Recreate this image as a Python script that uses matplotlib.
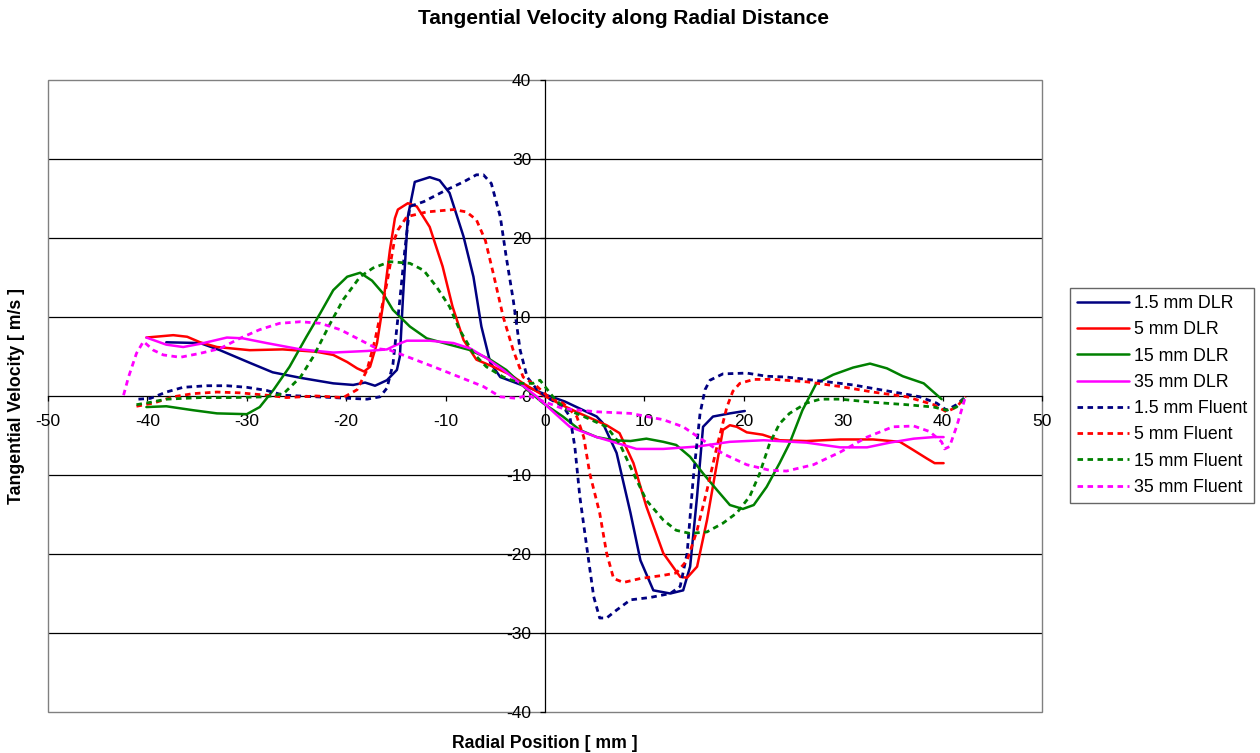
import matplotlib
matplotlib.use("Agg")
import matplotlib.pyplot as plt
from matplotlib.patches import Rectangle

plt.rcParams['font.family'] = ['Liberation Sans', 'DejaVu Sans']

# ---- data: radial position [mm] and tangential velocity [m/s] ----
dlr15_x = [-38.1, -34.7, -32.7, -29.7, -27.4, -24.6, -21.3, -19.3, -18.1, -17.1, -15.9, -14.9,
           -14.6, -14.3, -13.8, -13.1, -11.6, -10.6, -9.6, -8.2, -7.2, -6.4, -5.5, -4.5, -2.8,
           -1.5, 0.2, 2.0, 5.2, 5.8, 7.2, 8.6, 9.6, 10.9, 12.6, 13.9, 14.6, 15.3, 15.9, 16.9,
           18.6, 20.1]
dlr15_y = [6.8, 6.7, 5.8, 4.2, 3.0, 2.3, 1.6, 1.4, 1.7, 1.3, 2.0, 3.3,
           5.0, 12.2, 22.7, 27.1, 27.7, 27.3, 25.7, 20.2, 15.1, 8.8, 4.2, 2.4, 1.6,
           1.0, 0.1, -0.7, -2.6, -3.4, -7.2, -14.8, -20.8, -24.6, -25.0, -24.6, -21.6, -12.7, -3.9, -2.6,
           -2.2, -1.9]

dlr5_x = [-40.1, -37.4, -36.0, -34.7, -33.0, -29.7, -26.4, -23.0, -21.3, -19.9, -18.9, -18.2,
          -17.6, -16.9, -16.3, -15.6, -15.1, -14.8, -13.8, -12.9, -11.6, -10.3, -9.3, -8.2,
          -6.9, -5.2, -3.5, -2.2, -0.2, 1.8, 3.5, 6.2, 7.5, 8.9, 10.2, 11.9, 13.6, 14.3, 15.3,
          16.3, 17.3, 17.9, 18.6, 19.3, 20.3, 21.9, 23.6, 26.3, 29.7, 33.0, 35.7, 37.0, 38.4,
          39.2, 40.1]
dlr5_y = [7.4, 7.7, 7.5, 6.8, 6.2, 5.8, 5.9, 5.6, 5.2, 4.3, 3.5, 3.1,
          3.7, 6.7, 11.5, 18.5, 22.5, 23.6, 24.4, 24.0, 21.4, 16.4, 11.3, 7.1,
          4.6, 3.7, 2.7, 1.6, 0.1, -1.2, -2.2, -3.7, -4.7, -8.5, -14.0, -19.9, -22.9, -23.0, -21.6,
          -15.7, -8.5, -4.3, -3.7, -3.9, -4.6, -4.9, -5.6, -5.7, -5.5, -5.5, -5.8, -6.8, -7.9,
          -8.5, -8.5]

dlr15mm_x = [-40.1, -38.1, -35.4, -33.0, -30.0, -28.7, -27.3, -25.7, -24.0, -22.6, -21.3, -19.9,
             -18.6, -17.4, -16.3, -15.3, -13.6, -11.9, -9.6, -7.5, -5.5, -3.9, -1.8, -0.2, 1.8,
             3.5, 5.2, 6.9, 8.6, 10.2, 11.9, 13.2, 14.6, 15.9, 17.3, 18.6, 19.9, 21.0, 22.3, 23.6,
             24.6, 25.9, 27.3, 29.0, 31.0, 32.7, 34.4, 36.0, 38.1, 39.9]
dlr15mm_y = [-1.4, -1.3, -1.8, -2.2, -2.3, -1.4, 0.8, 3.7, 7.5, 10.5, 13.4, 15.1,
             15.6, 14.6, 13.0, 10.9, 8.8, 7.3, 6.5, 5.8, 4.6, 3.3, 0.8, -0.9, -2.6,
             -4.3, -5.2, -5.6, -5.7, -5.4, -5.8, -6.2, -7.7, -9.8, -11.9, -13.8, -14.3, -13.8, -11.5, -8.5,
             -6.0, -1.8, 1.6, 2.7, 3.6, 4.1, 3.5, 2.5, 1.6, -0.4]

dlr35_x = [-40.1, -38.1, -36.4, -34.7, -32.0, -30.4, -28.0, -24.6, -21.3, -17.9, -15.9, -14.9,
           -13.9, -11.6, -9.2, -7.5, -5.9, -4.2, -2.5, -0.8, 1.0, 2.5, 5.2, 7.9, 9.2, 11.9,
           15.3, 18.6, 22.0, 26.3, 29.7, 32.4, 34.7, 37.1, 39.1, 40.1]
dlr35_y = [7.4, 6.5, 6.2, 6.6, 7.4, 7.3, 6.7, 5.9, 5.5, 5.7, 5.9, 6.5,
           7.0, 7.0, 6.7, 6.0, 4.8, 3.3, 1.6, -0.1, -2.2, -3.9, -5.2, -6.2, -6.7, -6.7,
           -6.4, -5.8, -5.6, -5.9, -6.5, -6.5, -5.9, -5.4, -5.2, -5.2]

flu15_x = [-40.9, -39.7, -38.1, -36.4, -34.0, -32.0, -30.0, -28.0, -26.3, -23.0, -19.6, -17.9,
           -16.6, -15.9, -15.3, -14.6, -14.1, -13.6, -12.2, -9.9, -8.2, -6.9, -6.2, -5.4, -4.5,
           -3.9, -3.2, -2.5, -1.8, -0.8, 0.5, 1.8, 2.5, 3.0, 3.5, 4.2, 4.9, 5.5, 6.2, 7.2, 8.6,
           10.6, 12.6, 13.6, 14.3, 14.9, 15.6, 16.1, 16.6, 17.9, 20.3, 22.3, 24.3, 27.7, 31.0,
           33.7, 36.0, 37.7, 39.4, 40.4, 41.4, 42.3]
flu15_y = [-0.4, -0.3, 0.5, 1.1, 1.3, 1.3, 1.1, 0.7, 0.1, -0.1, -0.3, -0.4,
           -0.1, 1.0, 4.0, 12.2, 18.5, 24.0, 24.6, 26.1, 27.1, 28.0, 28.0, 26.9, 22.7,
           17.6, 12.2, 5.8, 2.4, 0.8, -0.4, -1.3, -2.6, -6.4, -12.7, -19.1, -25.4, -28.1, -28.1, -27.1, -25.8,
           -25.5, -25.0, -24.1, -19.9, -10.6, -2.2, 0.8, 2.0, 2.8, 2.9, 2.5, 2.4, 1.9, 1.4,
           0.8, 0.3, -0.1, -0.9, -1.8, -1.1, -0.1]

flu5_x = [-41.1, -39.4, -37.4, -35.4, -33.0, -30.7, -28.0, -26.0, -23.0, -20.3, -18.9, -17.9,
          -17.1, -15.9, -15.1, -14.8, -13.9, -11.9, -9.2, -7.9, -6.9, -6.0, -5.2, -4.2, -3.2,
          -2.2, -0.8, 0.5, 1.8, 3.2, 3.9, 4.5, 5.5, 6.2, 6.9, 7.9, 9.6, 11.9, 13.2, 14.3, 15.3,
          16.3, 17.3, 18.3, 18.9, 19.6, 21.0, 23.0, 26.3, 29.7, 33.0, 36.4, 39.1, 40.4, 41.4, 42.3]
flu5_y = [-1.3, -0.9, -0.1, 0.3, 0.5, 0.4, 0.1, -0.2, 0.0, -0.2, 0.8, 3.3,
          7.1, 14.3, 20.0, 21.0, 22.7, 23.3, 23.6, 23.3, 22.3, 19.7, 15.5, 10.0, 5.8,
          2.4, 1.2, -0.3, -0.9, -2.6, -5.2, -9.8, -14.8, -19.9, -23.1, -23.6, -23.1, -22.7, -22.4, -20.8, -17.0,
          -11.9, -6.4, -1.4, 0.6, 1.6, 2.1, 2.1, 1.8, 1.2, 0.5, -0.1, -1.1, -2.0, -1.4, -0.1]

flu15mm_x = [-41.1, -39.7, -38.1, -34.7, -31.4, -28.0, -26.3, -24.6, -23.3, -21.6, -20.3, -18.6,
             -17.3, -15.6, -13.6, -12.2, -10.9, -9.6, -8.6, -7.2, -5.9, -4.2, -2.5, -1.2, -0.5,
             0.8, 2.0, 3.9, 6.2, 7.5, 8.9, 10.2, 11.9, 13.2, 14.6, 16.3, 17.9, 19.3, 20.6, 21.6,
             22.6, 23.6, 24.6, 26.3, 27.7, 29.7, 33.0, 36.4, 39.1, 40.4, 41.4, 42.3]
flu15mm_y = [-1.1, -0.8, -0.4, -0.2, -0.2, -0.1, 0.3, 2.4, 5.0, 9.2, 12.2, 15.1,
             16.2, 17.0, 16.8, 15.9, 13.8, 11.3, 8.4, 5.4, 3.7, 2.4, 1.6, 1.6, 2.0,
             -0.1, -1.6, -2.6, -3.9, -6.0, -9.8, -13.2, -15.7, -17.0, -17.4, -17.2, -16.1, -14.8, -12.7, -9.8,
             -6.0, -3.5, -2.2, -0.9, -0.4, -0.4, -0.8, -1.1, -1.4, -1.8, -1.4, -0.1]

flu35_x = [-42.4, -41.9, -41.1, -40.4, -39.4, -38.4, -36.7, -34.7, -32.7, -30.7, -28.7, -26.7,
           -24.6, -22.6, -20.6, -18.6, -16.9, -15.6, -13.9, -11.2, -8.6, -6.2, -4.5, -2.8, -1.8,
           1.8, 5.2, 8.6, 11.9, 13.9, 15.9, 17.9, 20.3, 22.6, 24.3, 27.0, 29.7, 32.4, 35.0, 37.1,
           38.7, 39.9, 40.2, 40.7, 41.4, 42.3]
flu35_y = [0.1, 2.4, 5.4, 6.9, 5.8, 5.2, 4.9, 5.4, 6.0, 7.3, 8.4, 9.2,
           9.4, 9.2, 8.4, 7.1, 6.0, 5.8, 5.0, 3.7, 2.4, 1.2, -0.1, -0.3, 0.1,
           -1.6, -2.0, -2.2, -3.0, -3.9, -5.6, -7.3, -8.7, -9.4, -9.5, -8.7, -7.1, -5.2, -3.9, -3.8,
           -4.5, -5.8, -6.7, -6.4, -3.9, -0.1]

labels = ["1.5 mm DLR", "5 mm DLR", "15 mm DLR", "35 mm DLR",
          "1.5 mm Fluent", "5 mm Fluent", "15 mm Fluent", "35 mm Fluent"]
series_x = [dlr15_x, dlr5_x, dlr15mm_x, dlr35_x, flu15_x, flu5_x, flu15mm_x, flu35_x]
series_y = [dlr15_y, dlr5_y, dlr15mm_y, dlr35_y, flu15_y, flu5_y, flu15mm_y, flu35_y]
colors = ["#000080", "#FF0000", "#008000", "#FF00FF"] * 2
x_ticks = [-50, -40, -30, -20, -10, 0, 10, 20, 30, 40, 50]
y_ticks = [-40, -30, -20, -10, 0, 10, 20, 30, 40]

fig = plt.figure(figsize=(12.6, 7.53), dpi=100)
ax = fig.add_axes([48 / 1260, 1 - 712 / 753, (1042 - 48) / 1260, (712 - 80) / 753])
ax.set_xlim(-50, 50)
ax.set_ylim(-40, 40)

# horizontal gridlines
for yv in y_ticks:
    if abs(yv) < 40 and yv != 0:
        ax.axhline(yv, color="black", lw=0.9, zorder=1)

# plot-area frame
ax.add_patch(Rectangle((0, 0), 1, 1, transform=ax.transAxes, fill=False,
                       edgecolor="#808080", lw=1.0, zorder=1, clip_on=False))

lines = []
for i, (xs, ys, lab, c) in enumerate(zip(series_x, series_y, labels, colors)):
    if i < 4:
        ln, = ax.plot(xs, ys, color=c, lw=1.8, label=lab, zorder=3,
                      solid_joinstyle="round", solid_capstyle="round")
    else:
        ln, = ax.plot(xs, ys, color=c, lw=2.0, label=lab, zorder=3,
                      dashes=(2.0, 1.6), dash_capstyle="butt")
    lines.append(ln)

# axes crossing at the origin
for s in ["top", "right"]:
    ax.spines[s].set_visible(False)
ax.spines["left"].set_position(("data", 0))
ax.spines["bottom"].set_position(("data", 0))
ax.spines["left"].set_color("black")
ax.spines["bottom"].set_color("black")
ax.spines["left"].set_linewidth(0.9)
ax.spines["bottom"].set_linewidth(0.9)
ax.spines["left"].set_zorder(2)
ax.spines["bottom"].set_zorder(2)

ax.set_xticks(x_ticks)
ax.set_yticks(y_ticks)
ax.set_xticklabels([str(v) for v in x_ticks])
ax.set_yticklabels([str(v) for v in y_ticks])
ax.tick_params(axis="x", direction="out", length=3.5, width=0.9, pad=9.5, labelsize=12.5)
ax.tick_params(axis="y", direction="out", length=3.5, width=0.9, pad=6.5, labelsize=12.5)

fig.text(623 / 1260, 1 - 18 / 753, "Tangential Velocity along Radial Distance",
         ha="center", va="center", fontsize=15, fontweight="bold")
fig.text(545 / 1260, 1 - 743 / 753, "Radial Position [ mm ]",
         ha="center", va="center", fontsize=12.7, fontweight="bold")
fig.text(17 / 1260, 1 - 396 / 753, "Tangential Velocity [ m/s ]",
         ha="center", va="center", rotation=90, fontsize=12.7, fontweight="bold")

leg = fig.legend(handles=lines, labels=labels, loc="upper left",
                 bbox_to_anchor=(1070 / 1260, 1 - 288 / 753),
                 fontsize=12.8, frameon=True, fancybox=False, shadow=False,
                 handlelength=2.9, handletextpad=0.28, labelspacing=0.52,
                 borderpad=0.4, borderaxespad=0)
leg.get_frame().set_edgecolor("#404040")
leg.get_frame().set_linewidth(1.0)

fig.savefig("out.png", dpi=100)
